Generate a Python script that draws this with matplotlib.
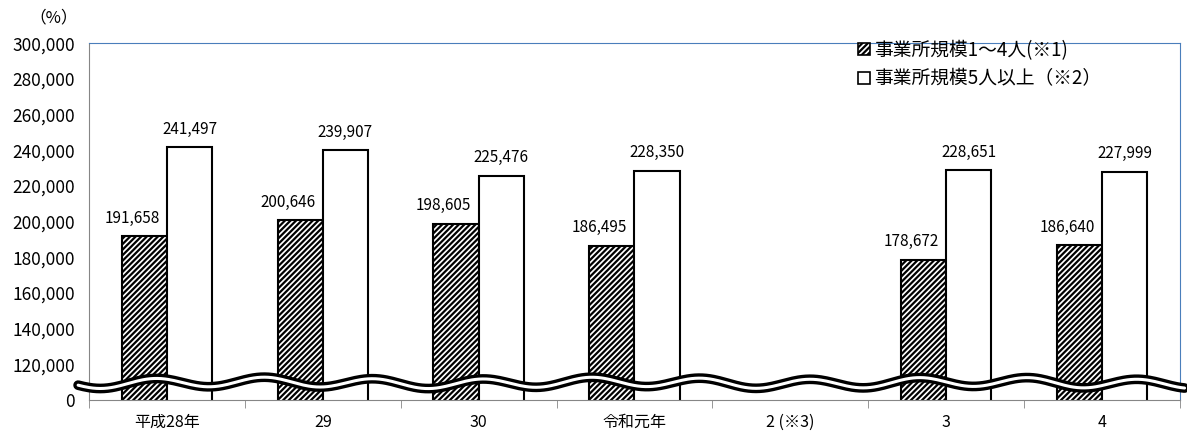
import numpy as np
import matplotlib
matplotlib.use('Agg')
import matplotlib.pyplot as plt
from matplotlib.patches import Patch

plt.rcParams['font.family'] = ['Noto Sans CJK JP', 'DejaVu Sans']
plt.rcParams['hatch.linewidth'] = 1.6

# 年次別の値（2年は調査なし）
categories = ['平成28年', '29', '30', '令和元年', '2 (※3)', '3', '4']
small_sites = [191658, 200646, 198605, 186495, np.nan, 178672, 186640]
large_sites = [241497, 239907, 225476, 228350, np.nan, 228651, 227999]
series_labels = ['事業所規模1～4人(※1)', '事業所規模5人以上（※2）']

y_ticks = list(range(100000, 300001, 20000))
y_tick_labels = ['0'] + [f'{v:,}' for v in y_ticks[1:]]

fig = plt.figure(figsize=(11.87, 4.36), dpi=100)
ax = fig.add_axes([0.075, 0.083, 0.919, 0.818])

x = np.arange(len(categories))
w = 0.29
ax.bar(x - w / 2, small_sites, w, color='white', edgecolor='black',
       hatch='//////', linewidth=1.5)
ax.bar(x + w / 2, large_sites, w, color='white', edgecolor='black',
       linewidth=1.5)

# 値ラベル（左側の棒は隣と重ならないよう少し左へ）
for xi, v in zip(x, small_sites):
    if not np.isnan(v):
        ax.text(xi - w / 2 - 0.08, v + 5500, f'{v:,}', ha='center', va='bottom', fontsize=11)
for xi, v in zip(x, large_sites):
    if not np.isnan(v):
        ax.text(xi + w / 2, v + 5500, f'{v:,}', ha='center', va='bottom', fontsize=11)

ax.set_xlim(-0.5, len(categories) - 0.5)
ax.set_ylim(100000, 300000)
ax.set_yticks(y_ticks)
ax.set_yticklabels(y_tick_labels, fontsize=12.5)
ax.tick_params(axis='y', length=0, pad=10)

ax.set_xticks(x)
ax.set_xticklabels(categories, fontsize=11.5)
ax.set_xticks(np.arange(len(categories) + 1) - 0.5, minor=True)
ax.tick_params(axis='x', which='major', length=0, pad=10)
ax.tick_params(axis='x', which='minor', length=6, direction='out', color='#868686')

for side in ('left', 'bottom'):
    ax.spines[side].set_color('#868686')
for side in ('top', 'right'):
    ax.spines[side].set_color('#4A7EBB')

# 省略を示す波線（二重線）
t = np.linspace(-0.57, 6.53, 600)
wave = 109500 + 2600 * np.sin(2 * np.pi * (t + 0.25) / 0.7) + 600 * np.sin(2 * np.pi * t / 2.3)
ax.plot(t, wave, color='black', lw=7, solid_capstyle='round', clip_on=False, zorder=5)
ax.plot(t, wave, color='white', lw=2.2, solid_capstyle='round', clip_on=False, zorder=6)

fig.text(0.025, 0.958, '（%）', fontsize=12, ha='left', va='center')

handles = [Patch(facecolor='white', edgecolor='black', hatch='//////', linewidth=1.2),
           Patch(facecolor='white', edgecolor='black', linewidth=1.2)]
ax.legend(handles, series_labels, loc='upper right', bbox_to_anchor=(0.935, 1.03),
          frameon=False, fontsize=13.5, handlelength=0.6, handleheight=0.6,
          handletextpad=0.25, labelspacing=0.4, borderaxespad=0)

fig.savefig('out.png', dpi=100)
